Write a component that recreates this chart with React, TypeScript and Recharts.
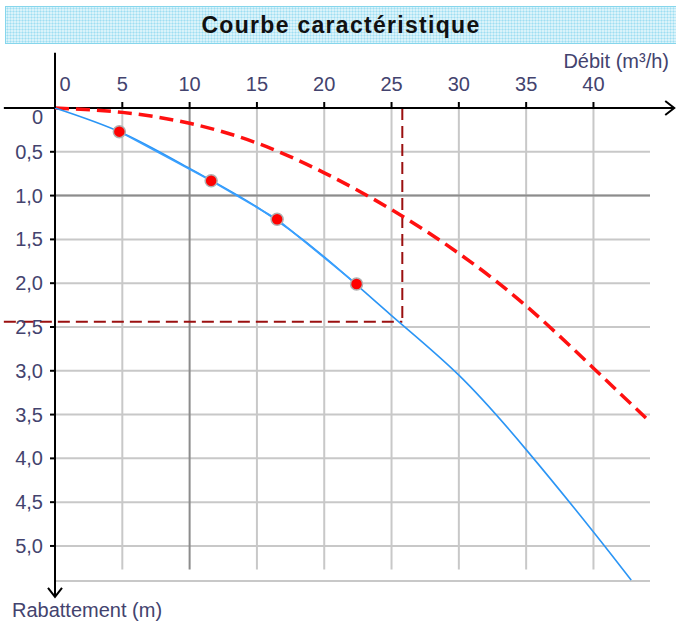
import React from "react";
import {
  CartesianGrid,
  ComposedChart,
  Line,
  ReferenceLine,
  XAxis,
  YAxis,
} from "recharts";

// graduations
const debitTicks = [0, 5, 10, 15, 20, 25, 30, 35, 40];
const rabattementTicks = [0, 0.5, 1, 1.5, 2, 2.5, 3, 3.5, 4, 4.5, 5];

// courbe caractéristique (bleue)
const courbeDebit = [0, 5, 10, 15, 20, 25, 30, 35, 40, 42.8];
const courbeRabattement = [0, 0.285, 0.69, 1.13, 1.7, 2.37, 3.05, 3.9, 4.84, 5.39];

// pertes de charge (rouge pointillé)
const pertesDebit = [0, 5, 10, 15, 20, 25, 30, 35, 40, 43.9];
const pertesRabattement = [0, 0.05, 0.175, 0.4, 0.74, 1.16, 1.66, 2.26, 2.97, 3.54];

// points de mesure
const mesuresDebit = [4.78, 11.6, 16.5, 22.4];
const mesuresRabattement = [0.27, 0.83, 1.27, 2.01];

// point de fonctionnement
const pointDebit = 25.8;
const pointRabattement = 2.44;

// étendue des axes et de la grille (unités des données)
const axeDebit = [-3.8, 46.0];
const axeRabattement = [-0.63, 5.58];
const grilleDebitMax = 44.2;
const grilleRabattementMax = 5.27;

const toPoints = (qs: number[], ss: number[]) => qs.map((q, i) => ({ q, s: ss[i] }));

const courbe = toPoints(courbeDebit, courbeRabattement);
const pertes = toPoints(pertesDebit, pertesRabattement);
const mesures = toPoints(mesuresDebit, mesuresRabattement);

const FONT = "'Liberation Sans', Arial, sans-serif";
const LABEL = "#43436e";
const GRID = "#c8c8c8";
const GRID_DARK = "#8c8c8c";
const REPERE = "#9b1010";

const fmt = (v: number) => (v === 0 ? "0" : v.toFixed(1).replace(".", ","));

function TickDebit(props: any) {
  const { x, y, payload } = props;
  return (
    <text
      x={x + (payload.value === 0 ? 10 : 0)}
      y={y}
      textAnchor="middle"
      fill={LABEL}
      fontSize={20}
      fontFamily={FONT}
    >
      {payload.value}
    </text>
  );
}

function TickRabattement(props: any) {
  const { x, y, payload } = props;
  return (
    <text
      x={x}
      y={y + (payload.value === 0 ? 9 : 0)}
      dy="0.35em"
      textAnchor="end"
      fill={LABEL}
      fontSize={20}
      fontFamily={FONT}
    >
      {fmt(payload.value)}
    </text>
  );
}

function Fleche(props: any) {
  const { x1, y1, x2, y2 } = props;
  const dx = x2 - x1;
  const dy = y2 - y1;
  const len = Math.hypot(dx, dy) || 1;
  const ux = dx / len;
  const uy = dy / len;
  const l = 9;
  const w = 7;
  const pts = [
    [x2 - ux * l - uy * w, y2 - uy * l + ux * w],
    [x2, y2],
    [x2 - ux * l + uy * w, y2 - uy * l - ux * w],
  ]
    .map((p) => p.join(","))
    .join(" ");
  return (
    <g>
      <line x1={x1} y1={y1} x2={x2} y2={y2} stroke="#000" strokeWidth={2} />
      <polyline points={pts} fill="none" stroke="#000" strokeWidth={2} />
    </g>
  );
}

export default function App() {
  return (
    <div
      style={{
        position: "absolute",
        left: 0,
        top: 0,
        width: 676,
        height: 624,
        background: "#fff",
        fontFamily: FONT,
      }}
    >
      <div
        style={{
          position: "absolute",
          left: 5,
          top: 6,
          width: 671,
          height: 38,
          boxSizing: "border-box",
          background: "#daf3fa",
          backgroundImage:
            "radial-gradient(circle, rgba(110,205,235,0.55) 0.9px, transparent 1.1px)",
          backgroundSize: "3px 3px",
          border: "1px solid #86d6ec",
          borderRight: "none",
          textAlign: "center",
          lineHeight: "37px",
          fontSize: 23,
          fontWeight: "bold",
          letterSpacing: 1.3,
          color: "#111",
        }}
      >
        Courbe caractéristique
      </div>
      <div
        style={{
          position: "absolute",
          right: 7,
          top: 51,
          fontSize: 20,
          lineHeight: "20px",
          color: LABEL,
          whiteSpace: "nowrap",
        }}
      >
        Débit (m³/h)
      </div>
      <div
        style={{
          position: "absolute",
          left: 12,
          top: 600,
          fontSize: 20,
          lineHeight: "20px",
          color: LABEL,
          whiteSpace: "nowrap",
        }}
      >
        Rabattement (m)
      </div>

      <ComposedChart
        width={676}
        height={624}
        margin={{ top: 0, right: 26, bottom: 43, left: 0 }}
        style={{ position: "absolute", left: 0, top: 0 }}
      >
        <CartesianGrid vertical={false} stroke={GRID} strokeWidth={2} />
        <XAxis
          dataKey="q"
          type="number"
          orientation="top"
          height={108}
          domain={[0, grilleDebitMax]}
          ticks={debitTicks}
          axisLine={false}
          tickSize={6}
          tickMargin={11}
          tickLine={{ stroke: "#000", strokeWidth: 2 }}
          tick={<TickDebit />}
          interval={0}
        />
        <YAxis
          dataKey="s"
          type="number"
          reversed
          width={55}
          domain={[0, 5.4]}
          ticks={rabattementTicks}
          axisLine={false}
          tickSize={5}
          tickMargin={7}
          tickLine={{ stroke: "#000", strokeWidth: 2 }}
          tick={<TickRabattement />}
          interval={0}
        />

        {debitTicks
          .filter((v) => v > 0)
          .map((v) => (
            <ReferenceLine
              key={`gx${v}`}
              segment={[
                { x: v, y: 0 },
                { x: v, y: grilleRabattementMax },
              ]}
              stroke={v === 10 ? GRID_DARK : GRID}
              strokeWidth={2}
              ifOverflow="visible"
            />
          ))}
        <ReferenceLine
          segment={[
            { x: 0, y: 1 },
            { x: grilleDebitMax, y: 1 },
          ]}
          stroke={GRID_DARK}
          strokeWidth={2}
          ifOverflow="visible"
        />

        <ReferenceLine
          segment={[
            { x: pointDebit, y: 0 },
            { x: pointDebit, y: pointRabattement },
          ]}
          stroke={REPERE}
          strokeWidth={2}
          strokeDasharray="12 6"
          ifOverflow="visible"
        />
        <ReferenceLine
          segment={[
            { x: axeDebit[0], y: pointRabattement },
            { x: pointDebit, y: pointRabattement },
          ]}
          stroke={REPERE}
          strokeWidth={2}
          strokeDasharray="12 6"
          ifOverflow="visible"
        />

        <ReferenceLine
          segment={[
            { x: axeDebit[0], y: 0 },
            { x: axeDebit[1], y: 0 },
          ]}
          shape={<Fleche />}
          ifOverflow="visible"
        />
        <ReferenceLine
          segment={[
            { x: 0, y: axeRabattement[0] },
            { x: 0, y: axeRabattement[1] },
          ]}
          shape={<Fleche />}
          ifOverflow="visible"
        />

        <Line
          data={pertes}
          dataKey="s"
          type="natural"
          stroke="#ff1010"
          strokeWidth={3.5}
          strokeDasharray="14 7"
          dot={false}
          isAnimationActive={false}
        />
        <Line
          data={courbe}
          dataKey="s"
          type="natural"
          stroke="#2b95f5"
          strokeWidth={1.6}
          dot={false}
          isAnimationActive={false}
        />
        <Line
          data={mesures}
          dataKey="s"
          type="linear"
          stroke="#3aa0ff"
          strokeWidth={1.6}
          dot={{ r: 6, fill: "#ff0000", stroke: "#b0b0b0", strokeWidth: 1.5 }}
          isAnimationActive={false}
        />
      </ComposedChart>
    </div>
  );
}
